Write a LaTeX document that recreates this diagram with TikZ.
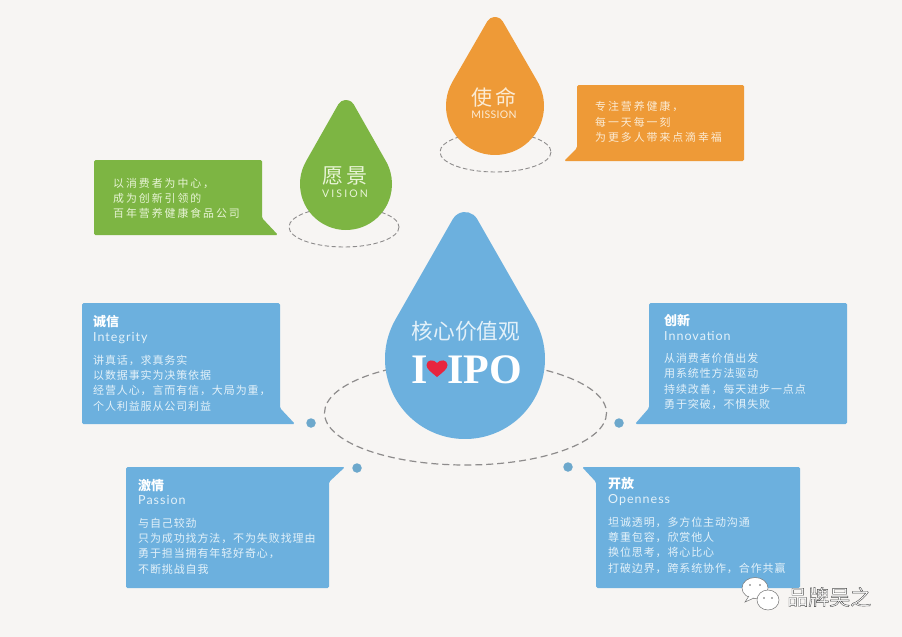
\documentclass[tikz,border=0pt]{standalone}
\usepackage{fontspec}
\setmainfont{Noto Sans CJK SC}
\newfontfamily\bodyfont[LetterSpace=8]{Noto Sans CJK SC}
\newfontfamily\widefont[LetterSpace=18]{Noto Sans CJK SC}
\newfontfamily\latinfont[LetterSpace=8]{Lato}
\newfontfamily\capsfont[LetterSpace=3]{Lato}
\newfontfamily\capswide[LetterSpace=20]{Lato}
\newfontfamily\serifbold{Liberation Serif}
\definecolor{pagebg}{HTML}{F7F5F3}
\definecolor{coreblue}{HTML}{6CB0DE}
\definecolor{leafgreen}{HTML}{7DB543}
\definecolor{sunorange}{HTML}{EE9A37}
\definecolor{dotblue}{HTML}{6DA8CC}
\definecolor{dashgrey}{HTML}{8E8C8C}
\definecolor{paleblue}{HTML}{E3F1F9}
\definecolor{palegreen}{HTML}{E8F4D6}
\definecolor{palecream}{HTML}{FBEBD4}
\definecolor{heartred}{HTML}{E8253F}
\tikzset{
  ring/.style={draw=dashgrey,line width=1.2pt,dash pattern=on 7pt off 4pt},
  smallring/.style={draw=dashgrey,line width=0.9pt,dash pattern=on 4.5pt off 2.5pt},
  bubble/.style={rounded corners=1.5pt},
  smalldot/.style={circle,fill=dotblue,minimum size=9.5pt,inner sep=0pt},
  bodytext/.style={anchor=west,align=left,inner sep=0pt,text=paleblue,font=\bodyfont\fontsize{11}{15.3}\selectfont},
  widetext/.style={anchor=west,align=left,inner sep=0pt,font=\widefont\fontsize{10.9}{15.3}\selectfont},
  headtext/.style={anchor=west,inner sep=0pt,text=white,text height=9pt,text depth=3pt,font=\fontsize{13}{14}\selectfont\bfseries},
  latintext/.style={anchor=west,inner sep=0pt,text=paleblue,text height=9pt,text depth=3pt,font=\latinfont\fontsize{12.5}{14}\selectfont},
  wechat/.style={fill=white,draw=black!55,line width=0.5pt}
}
\usetikzlibrary{calc}
% centre x, centre y, radius, top y, tip radius, colour
\newcommand{\waterdrop}[6]{%
  \pgfmathsetmacro{\tipy}{#4+#5}%
  \pgfmathsetmacro{\tilt}{asin((#3-#5)/(#2-\tipy))}%
  \pgfmathsetmacro{\startang}{180+\tilt}%
  \pgfmathsetmacro{\endang}{-\tilt}%
  \pgfmathsetmacro{\tipend}{-180+\tilt}%
  \fill[#6] (#1,#2) ++(\startang:#3) arc[start angle=\startang,end angle=\endang,radius=#3]
    -- ($(#1,\tipy)+(\endang:#5)$) arc[start angle=\endang,end angle=\tipend,radius=#5] -- cycle;}
\begin{document}
\begin{tikzpicture}[x=1pt,y=-1pt]
\path[use as bounding box,fill=pagebg] (0,0) rectangle (902,637);

% dashed rings
\draw[smallring] (495.5,152) ellipse[x radius=55.5,y radius=20];
\draw[smallring] (344,227) ellipse[x radius=55,y radius=20];
\draw[ring] (465.5,413) ellipse[x radius=141,y radius=52];

% drops
\waterdrop{495}{106}{49}{17}{9}{sunorange}
\waterdrop{346}{184}{46}{100}{9}{leafgreen}
\waterdrop{465}{359}{80}{212}{14}{coreblue}

% drop labels
\node[text=palecream,font=\widefont\fontsize{21}{24}\selectfont,inner sep=0pt] (mission) at (494,97) {使命};
\node[text=palecream,font=\capsfont\fontsize{10.5}{12}\selectfont,inner sep=0pt] (missionen) at (494,115) {MISSION};
\node[text=palegreen,font=\widefont\fontsize{21}{24}\selectfont,inner sep=0pt] (vision) at (345,176) {愿景};
\node[text=palegreen,font=\capswide\fontsize{10.5}{12}\selectfont,inner sep=0pt] (visionen) at (345,194) {VISION};
\node[text=paleblue,font=\fontsize{21.7}{24}\selectfont,inner sep=0pt] (core) at (466,331) {核心价值观};
\node[text=white,font=\serifbold\bfseries\fontsize{42}{46}\selectfont,inner sep=0pt,anchor=base west] (ilabel) at (411.5,383) {I};
\node[text=white,font=\serifbold\bfseries\fontsize{42}{46}\selectfont,inner sep=0pt,anchor=base west] (ipo) at (447,383) {IPO};
\fill[heartred] (437,377) .. controls (431,372) and (426.5,369) .. (426.5,365)
  .. controls (426.5,359.5) and (434,359) .. (437,363)
  .. controls (440,359) and (447.5,359.5) .. (447.5,365)
  .. controls (447.5,369) and (443,372) .. (437,377) -- cycle;

% callouts
\fill[sunorange,bubble] (577,85) -- (744,85) -- (744,161) -- (564,161) -- (577,148) -- cycle;
\fill[leafgreen,bubble] (94,160) -- (262,160) -- (262,218) -- (278,235) -- (94,235) -- cycle;
\fill[coreblue,bubble] (82,303) -- (280,303) -- (280,408) -- (295,424) -- (82,424) -- cycle;
\fill[coreblue,bubble] (126,467) -- (345,467) -- (329,482) -- (329,588) -- (126,588) -- cycle;
\fill[coreblue,bubble] (649,303) -- (847,303) -- (847,424) -- (635,424) -- (649,408) -- cycle;
\fill[coreblue,bubble] (582,467) -- (800,467) -- (800,588) -- (596,588) -- (596,482) -- cycle;

% dots
\node[smalldot] (dotia) at (311,423) {};
\node[smalldot] (dotib) at (357,468) {};
\node[smalldot] (dotic) at (619,423) {};
\node[smalldot] (dotid) at (568,467) {};

% callout texts
\node[widetext,text=palecream] (missiontext) at (595,122) {专注营养健康，\\每一天每一刻\\为更多人带来点滴幸福};
\node[widetext,text=palegreen] (visiontext) at (113,198.5) {以消费者为中心，\\成为创新引领的\\百年营养健康食品公司};

\node[headtext] (h1) at (93,323) {诚信};
\node[latintext] (l1) at (93,338) {Integrity};
\node[bodytext] (b1) at (93,383) {讲真话，求真务实\\以数据事实为决策依据\\经营人心，言而有信，大局为重，\\个人利益服从公司利益};

\node[headtext] (h2) at (138,487) {激情};
\node[latintext] (l2) at (138,501) {Passion};
\node[bodytext] (b2) at (138,546) {与自己较劲\\只为成功找方法，不为失败找理由\\勇于担当拥有年轻好奇心，\\不断挑战自我};

\node[headtext] (h3) at (664,322) {创新};
\node[latintext] (l3) at (664,337) {Innovation};
\node[bodytext] (b3) at (664,381.5) {从消费者价值出发\\用系统性方法驱动\\持续改善，每天进步一点点\\勇于突破，不惧失败};

\node[headtext] (h4) at (608,485) {开放};
\node[latintext] (l4) at (608,500) {Openness};
\node[bodytext] (b4) at (608,545) {坦诚透明，多方位主动沟通\\尊重包容，欣赏他人\\换位思考，将心比心\\打破边界，跨系统协作，合作共赢};

% watermark
\draw[wechat] (755,588) ellipse[x radius=13,y radius=10.5];
\draw[wechat] (749,596) -- (745,602) -- (754,598);
\draw[wechat] (768,600) ellipse[x radius=11,y radius=10];
\fill[black!60] (750,585) circle[radius=0.9] (760,585) circle[radius=0.9] (764,598) circle[radius=0.8] (772,598) circle[radius=0.8];
\node[inner sep=0pt,anchor=west,font=\fontsize{21}{24}\selectfont] (mark) at (787,597) {\special{pdf:code 2 Tr 0.4 w 0.3 0.3 0.3 RG 1 1 1 rg}品牌吴之\special{pdf:code 0 Tr}};
\end{tikzpicture}
\end{document}
